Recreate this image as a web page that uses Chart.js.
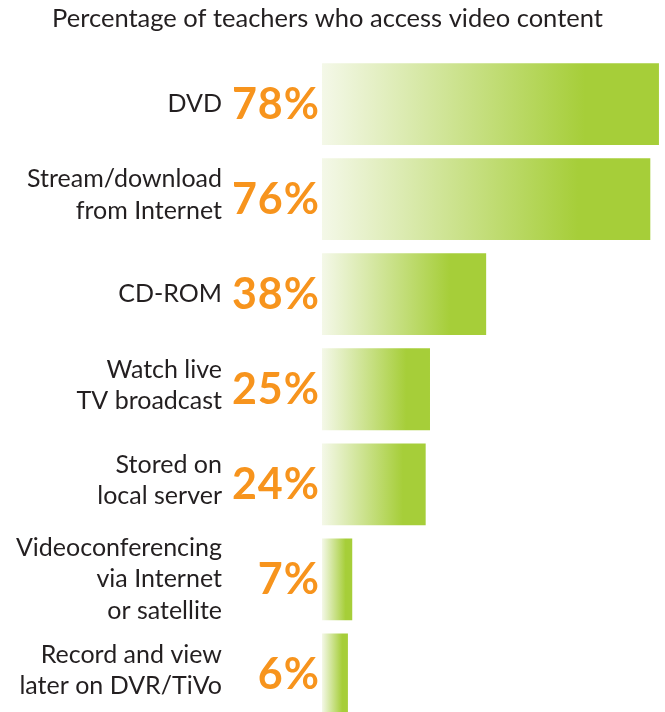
<!DOCTYPE html>
<html>
<head>
<meta charset="utf-8">
<script src="https://cdn.jsdelivr.net/npm/chart.js@4"></script>
<style>
  html, body { margin: 0; padding: 0; background: #fff; overflow: hidden; }
  #wrap { width: 665px; height: 722px; }
</style>
</head>
<body>
<div id="wrap"><canvas id="chart"></canvas></div>
<script>
// data
const categories = [
  ["DVD"],
  ["Stream/download", "from Internet"],
  ["CD-ROM"],
  ["Watch live", "TV broadcast"],
  ["Stored on", "local server"],
  ["Videoconferencing", "via Internet", "or satellite"],
  ["Record and view", "later on DVR/TiVo"],
];
const percents = [78, 76, 38, 25, 24, 7, 6];
const chartTitle = "Percentage of teachers who access video content";

const GREEN = "#a6ce39";
const ORANGE = "#f7941d";
const TEXT = "#231f20";

// fade each bar from almost white on the left to full green
function barGradient(ctx) {
  const chart = ctx.chart;
  if (!chart.chartArea) return GREEN;
  const x = chart.scales.x;
  const x0 = x.getPixelForValue(0);
  const x1 = x.getPixelForValue(ctx.raw);
  const g = chart.ctx.createLinearGradient(x0, 0, x1, 0);
  g.addColorStop(0, "#f4f8e8");
  g.addColorStop(0.78, GREEN);
  g.addColorStop(1, GREEN);
  return g;
}

// title across the whole page, category names and big orange percentages
const sideLabels = {
  id: "sideLabels",
  afterDatasetsDraw(chart) {
    const c = chart.ctx;
    const meta = chart.getDatasetMeta(0);
    const left = chart.chartArea.left;
    c.save();
    c.textBaseline = "middle";

    c.textAlign = "center";
    c.fillStyle = TEXT;
    c.font = "25.5px Lato";
    c.fillText(chartTitle, chart.width / 2 - 5, 19);

    c.textAlign = "right";
    meta.data.forEach((bar, i) => {
      c.fillStyle = ORANGE;
      c.font = "bold 43px Lato";
      c.letterSpacing = "1px";
      c.fillText(percents[i] + "%", left - 2, bar.y + 1);
      c.letterSpacing = "0px";

      const lines = categories[i];
      const lh = 31.5;
      const shift = lines.length === 2 ? -4 : 0;
      const top = bar.y + shift - (lines.length - 1) * lh / 2;
      c.fillStyle = TEXT;
      c.font = "25px Lato";
      lines.forEach((t, k) => c.fillText(t, left - 100, top + k * lh));
    });
    c.restore();
  }
};

new Chart(document.getElementById("chart"), {
  type: "bar",
  data: {
    labels: categories.map((l) => l.join(" ")),
    datasets: [{
      data: percents,
      backgroundColor: barGradient,
      borderWidth: 0,
      barPercentage: 0.86,
      categoryPercentage: 1,
    }],
  },
  options: {
    indexAxis: "y",
    responsive: true,
    maintainAspectRatio: false,
    animation: false,
    layout: { padding: { left: 322, right: 0, top: 56.5, bottom: 0 } },
    scales: {
      x: { display: false, min: 0, max: 79.4 },
      y: { display: false },
    },
    plugins: {
      legend: { display: false },
      tooltip: { enabled: false },
      title: { display: false },
    },
  },
  plugins: [sideLabels],
});
</script>
</body>
</html>
